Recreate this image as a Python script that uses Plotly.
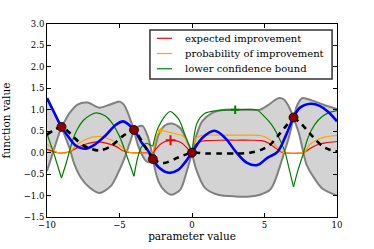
import plotly.graph_objects as go

# ---------------- data ----------------
obs_x = [-9, -4, -2.7, 0, 7]
obs_y = [0.6, 0.53, -0.15, 0, 0.82]

true_x = [-10, -9.5, -9, -8.5, -8, -7.4, -6.7, -6, -5.25, -4.75, -4, -3.5, -3, -2.7, -2.3, -1.6,
          -0.95, -0.4, 0, 0.7, 1.55, 2.3, 3.0, 3.8, 4.5, 5.2, 5.9, 6.5, 7, 7.45, 8.2, 8.8, 9.4, 10]
true_y = [1.27, 0.93, 0.6, 0.36, 0.16, 0.09, 0.19, 0.39, 0.65, 0.73, 0.53, 0.25, 0.03, -0.15, -0.34, -0.47,
          -0.4, -0.19, 0, 0.34, 0.51, 0.34, 0.03, -0.24, -0.29, -0.12, 0.02, 0.42, 0.82, 1.05, 1.14, 1.09, 0.95, 0.73]

mean_x = [-10, -9.5, -9, -8.5, -8.1, -7.4, -6.4, -5.6, -4.8, -4.25, -4, -3.7, -3.25, -2.7, -2.3, -1.9,
          -1.0, 0, 1, 2, 3, 4, 4.8, 5.4, 6.0, 6.55, 7, 7.6, 8.2, 9.0, 9.5, 10]
mean_y = [0.42, 0.53, 0.6, 0.48, 0.34, 0.15, 0.05, 0.15, 0.38, 0.5, 0.53, 0.4, 0.15, -0.15, -0.22, -0.24,
          -0.12, 0, -0.02, -0.02, -0.02, 0.0, 0.07, 0.19, 0.42, 0.65, 0.82, 0.65, 0.42, 0.15, 0.07, 0.03]

upper_x = [-10, -9.6, -9.3, -9, -8.7, -8.45, -7.9, -7.2, -6.4, -5.6, -5.0, -4.7, -4.45, -4.2, -4,
           -3.75, -3.4, -3.05, -2.85, -2.7, -2.3, -1.85, -1.4, -0.8, -0.35, 0, 0.3, 0.7, 1.4, 2.3,
           3.2, 4.2, 4.7, 5.3, 5.95, 6.35, 6.7, 7, 7.3, 7.6, 8.5, 9.2, 10]
upper_y = [1.27, 1.0, 0.8, 0.6, 0.78, 0.92, 1.12, 1.17, 1.05, 1.13, 1.19, 1.12, 0.95, 0.72, 0.53,
           0.6, 0.62, 0.38, 0.12, -0.15, 0.42, 0.64, 0.68, 0.57, 0.28, 0, 0.4, 0.73, 0.93, 1.0,
           1.0, 1.0, 1.0, 1.12, 1.27, 1.24, 1.06, 0.82, 1.14, 1.27, 1.19, 1.1, 1.02]

lower_x = [-10, -9.5, -9.25, -9, -8.75, -8.45, -8.1, -7.65, -7.05, -6.4, -5.6, -5.0, -4.65, -4.35, -4,
           -3.75, -3.45, -3.15, -2.9, -2.7, -2.3, -1.85, -1.4, -0.8, -0.35, 0, 0.3, 0.9, 1.8, 3.0,
           4.0, 4.7, 5.4, 5.75, 6.1, 6.4, 6.7, 7, 7.4, 7.65, 7.9, 8.5, 9.0, 10]
lower_y = [-0.43, 0.1, 0.36, 0.6, 0.38, 0.11, -0.28, -0.59, -0.82, -0.94, -0.78, -0.4, -0.12, 0.17, 0.53,
           0.2, -0.05, -0.2, -0.22, -0.15, -0.68, -0.9, -0.98, -0.86, -0.42, 0, -0.4, -0.82, -0.98, -1.02,
           -1.02, -0.98, -0.86, -0.63, -0.28, 0.05, 0.38, 0.82, 0.42, 0.05, -0.28, -0.63, -0.84, -1.0]

ei_x = [-10, -9.6, -9.3, -8.7, -8.4, -8.0, -7.5, -7.0, -6.4, -5.8, -5.2, -4.8, -4.4, -4.2, -2.7, -2.45,
        -2.2, -1.85, -1.48, -1.0, -0.68, -0.4, -0.2, 0, 0.1, 0.25, 0.6, 1.0, 2.0, 3.0, 4.0, 4.8, 5.3,
        5.7, 6.0, 6.3, 7.7, 7.95, 8.2, 8.7, 9.2, 10]
ei_y = [0.08, 0.03, 0.0, 0.0, 0.03, 0.1, 0.18, 0.23, 0.25, 0.21, 0.14, 0.05, 0.01, 0.0, 0.0, 0.1,
        0.19, 0.26, 0.29, 0.27, 0.22, 0.13, 0.05, 0, 0.12, 0.19, 0.26, 0.28, 0.29, 0.29, 0.29, 0.28, 0.22,
        0.12, 0.05, 0.0, 0.0, 0.05, 0.11, 0.19, 0.23, 0.26]

pi_x = [-10, -9.7, -9.45, -9.25, -8.6, -8.3, -7.9, -7.5, -7.0, -6.4, -5.8, -5.2, -4.8, -4.4, -4.2,
        -2.85, -2.7, -2.55, -2.4, -2.2, -1.5, -1.0, -0.68, -0.4, -0.2, 0, 0.08, 0.25, 0.6, 1.0, 2.0,
        3.0, 4.0, 4.7, 5.1, 5.5, 5.85, 6.15, 6.35, 7.65, 7.85, 8.1, 8.5, 8.9, 9.4, 10]
pi_y = [0.2, 0.12, 0.04, 0.0, 0.0, 0.06, 0.19, 0.28, 0.35, 0.38, 0.33, 0.23, 0.12, 0.02, 0.0,
        0.0, 0.02, 0.25, 0.42, 0.51, 0.47, 0.43, 0.4, 0.3, 0.15, 0, 0.15, 0.33, 0.39, 0.41, 0.41,
        0.41, 0.41, 0.40, 0.36, 0.27, 0.14, 0.03, 0.0, 0.0, 0.05, 0.18, 0.28, 0.34, 0.38, 0.40]

lcb_x = [-10, -9.7, -9.45, -9.2, -9, -8.7, -8.45, -8.2, -7.9, -7.5, -7.0, -6.6, -6.0, -5.6, -5.0, -4.5,
         -4, -3.75, -3.45, -3.15, -2.9, -2.7, -2.4, -1.85, -1.5, -0.9, -0.45, 0, 0.35, 0.9, 1.7, 3.0,
         4.5, 5.0, 5.5, 5.9, 6.4, 6.7, 7, 7.3, 7.65, 8.0, 8.45, 9.0, 9.5, 10]
lcb_y = [0.44, 0.15, -0.1, -0.38, -0.59, -0.27, 0.03, 0.32, 0.55, 0.75, 0.88, 0.93, 0.86, 0.73, 0.38, -0.07,
         -0.55, -0.12, 0.15, 0.22, 0.18, 0.15, 0.53, 0.86, 0.96, 0.77, 0.38, 0, 0.69, 0.92, 0.98, 1.0,
         0.99, 0.84, 0.65, 0.42, 0.03, -0.38, -0.8, -0.42, -0.05, 0.35, 0.65, 0.85, 0.94, 0.98]

ei_best_x, ei_best_y = [-1.48], [0.29]
pi_best_x, pi_best_y = [-2.2], [0.51]
lcb_best_x, lcb_best_y = [2.98], [1.0]

labels = ["expected improvement", "probability of improvement", "lower confidence bound"]
colors = ["#ff0000", "#ffa500", "#008000"]


# ---------------- helpers ----------------
def split_at(xs, ys, breaks):
    """Return lists broken (None gap) at break x positions, with break point repeated."""
    ox, oy = [], []
    n = len(xs)
    for i, (x, y) in enumerate(zip(xs, ys)):
        ox.append(x)
        oy.append(y)
        if x in breaks and 0 < i < n - 1:
            ox += [None, x]
            oy += [None, y]
    return ox, oy


def segments(xs, ys, breaks):
    segs, cx, cy = [], [], []
    for x, y in zip(xs, ys):
        cx.append(x)
        cy.append(y)
        if x in breaks and len(cx) > 1:
            segs.append((cx, cy))
            cx, cy = [x], [y]
    if len(cx) > 1:
        segs.append((cx, cy))
    return segs


fig = go.Figure()

# confidence band fill (one polygon per interval between observations)
fx, fy = [], []
for (ux, uy), (lx, ly) in zip(segments(upper_x, upper_y, obs_x), segments(lower_x, lower_y, obs_x)):
    px = list(ux) + list(reversed(lx))
    py = list(uy) + list(reversed(ly))
    cleaned_x, cleaned_y = [], []
    for a, b in zip(px, py):
        if cleaned_x and a == cleaned_x[-1] and b == cleaned_y[-1]:
            continue
        cleaned_x.append(a)
        cleaned_y.append(b)
    if cleaned_x[-1] == cleaned_x[0] and cleaned_y[-1] == cleaned_y[0]:
        cleaned_x.pop()
        cleaned_y.pop()
    fx += cleaned_x + [None]
    fy += cleaned_y + [None]
fig.add_trace(go.Scatter(x=fx, y=fy, mode="lines", fill="toself", fillcolor="#d3d3d3",
                         line=dict(width=0, shape="spline", smoothing=0.8), showlegend=False,
                         hoverinfo="skip"))

for bx, by in [(upper_x, upper_y), (lower_x, lower_y)]:
    sx, sy = split_at(bx, by, obs_x)
    fig.add_trace(go.Scatter(x=sx, y=sy, mode="lines", connectgaps=False,
                             line=dict(color="#808080", width=2, shape="spline", smoothing=0.8),
                             showlegend=False, hoverinfo="skip"))

# acquisition functions
for xs, ys, col, lab in [(ei_x, ei_y, colors[0], labels[0]),
                         (pi_x, pi_y, colors[1], labels[1]),
                         (lcb_x, lcb_y, colors[2], labels[2])]:
    brk = obs_x if col == colors[2] else [-2.7, 0]
    sx, sy = split_at(xs, ys, brk)
    fig.add_trace(go.Scatter(x=sx, y=sy, mode="lines", connectgaps=False, name=lab, showlegend=False,
                             line=dict(color=col, width=1.2, shape="spline", smoothing=0.8)))

# true function
fig.add_trace(go.Scatter(x=true_x, y=true_y, mode="lines", showlegend=False,
                         line=dict(color="#0000ff", width=2.6, shape="spline", smoothing=1)))

# GP mean
mx, my = split_at(mean_x, mean_y, [-2.7, 7])
fig.add_trace(go.Scatter(x=mx, y=my, mode="lines", connectgaps=False, showlegend=False,
                         line=dict(color="black", width=2.6, dash="6px,5px", shape="spline",
                                   smoothing=0.8)))

# maxima of acquisition functions
fig.add_trace(go.Scatter(x=ei_best_x, y=ei_best_y, mode="markers", showlegend=False,
                         marker=dict(symbol="cross-thin", size=7, line=dict(color=colors[0], width=2))))
fig.add_trace(go.Scatter(x=pi_best_x, y=pi_best_y, mode="markers", showlegend=False,
                         marker=dict(symbol="triangle-left", size=6, color=colors[1])))
fig.add_trace(go.Scatter(x=lcb_best_x, y=lcb_best_y, mode="markers", showlegend=False,
                         marker=dict(symbol="cross-thin", size=6, line=dict(color=colors[2], width=2))))

# observations
fig.add_trace(go.Scatter(x=obs_x, y=obs_y, mode="markers", showlegend=False,
                         marker=dict(color="#8b0000", size=9, line=dict(color="black", width=0.8))))

# ---------------- legend (box, line samples, labels) ----------------
shapes = [dict(type="rect", xref="paper", yref="paper", x0=0.355, x1=0.983, y0=0.715, y1=0.969,
               line=dict(color="#333333", width=1.5), fillcolor="white", layer="above")]
annotations = []
for i, (lab, col) in enumerate(zip(labels, colors)):
    yy = 0.926 - i * 0.079
    shapes.append(dict(type="line", xref="paper", yref="paper", x0=0.379, x1=0.431, y0=yy, y1=yy,
                       line=dict(color=col, width=1.2), layer="above"))
    annotations.append(dict(xref="paper", yref="paper", x=0.468, y=yy, xanchor="left", yanchor="middle",
                            text=lab, showarrow=False, font=dict(size=10)))

axis_common = dict(showline=True, linecolor="black", linewidth=1, mirror="ticks", ticks="inside",
                   ticklen=4, tickcolor="black", showgrid=False, zeroline=False)

fig.update_layout(
    width=374, height=249,
    margin=dict(l=47, r=37, t=24, b=32, autoexpand=False),
    paper_bgcolor="white", plot_bgcolor="white",
    font=dict(family="DejaVu Serif", size=8.5, color="black"),
    showlegend=False,
    shapes=shapes, annotations=annotations,
    xaxis=dict(range=[-10, 10], tickvals=[-10, -5, 0, 5, 10], automargin=True,
               title=dict(text="parameter value", font=dict(size=10.5), standoff=3), **axis_common),
    yaxis=dict(range=[-1.5, 3.0], tick0=-1.5, dtick=0.5, tickformat=".1f", automargin=False,
               title=dict(text="function value", font=dict(size=10.5)), **axis_common),
)

fig.write_html("out.html", config={"displayModeBar": False},
               post_script="document.body.style.margin='0';document.body.style.overflow='hidden';")
